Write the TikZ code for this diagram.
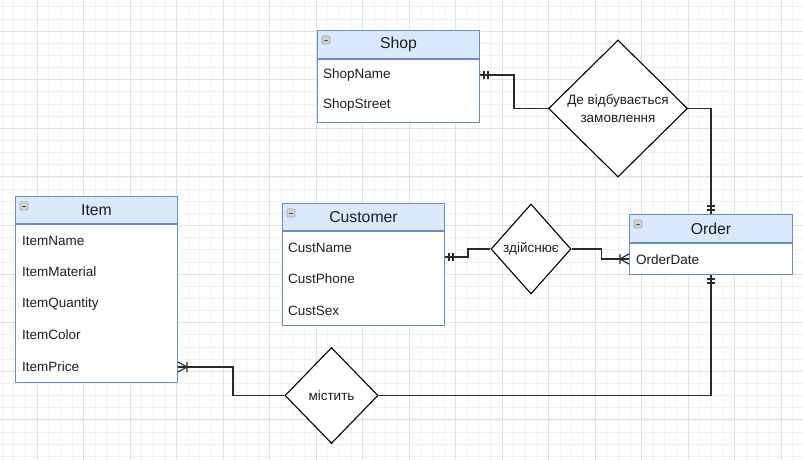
\documentclass[tikz,border=0pt]{standalone}
\usepackage{fontspec}
\setmainfont{Liberation Sans}
\usetikzlibrary{shapes.geometric, positioning, calc}
\definecolor{entline}{HTML}{6C8EBF}
\definecolor{entfill}{HTML}{DAE8FC}
\definecolor{gridmin}{HTML}{F2F2F2}
\definecolor{gridmaj}{HTML}{E2E2E2}
\definecolor{txt}{HTML}{1E1E1E}
\definecolor{lnk}{HTML}{2A2A2A}

\begin{document}
\begin{tikzpicture}[
    x=1pt, y=-1pt,
    ehead/.style={rectangle, draw=entline, fill=entfill, line width=1pt, minimum height=28pt, inner sep=0pt, anchor=north west, font=\fontsize{15.8}{19}\selectfont, text=txt},
    ebody/.style={rectangle, draw=entline, fill=white, line width=1pt, inner sep=0pt, anchor=north west},
    attr/.style={anchor=west, inner sep=0pt, font=\fontsize{13.5}{16}\selectfont, text=txt},
    rel/.style={diamond, draw=black, line width=1.1pt, fill=white, inner sep=0pt, align=center, font=\fontsize{13.5}{18}\selectfont, text=txt},
    link/.style={draw=lnk, line width=1.2pt},
    fold/.pic={\draw[gray!70, fill=gray!35, rounded corners=1pt, line width=0.6pt] (5,6) rectangle (13,14);
               \draw[black!70, line width=0.9pt] (7,10) -- (11,10);},
    mone/.pic={\draw[link] (4,-4) -- (4,4) (8,-4) -- (8,4);},
    mmany/.pic={\draw[link] (0,-5) -- (9,0) -- (0,5) (9,-5) -- (9,5);}
]

% Background grid
\useasboundingbox (0,0) rectangle (803,460);
\fill[white] (0,0) rectangle (803,460);
\begin{scope}
  \clip (0,0) rectangle (803,460);
  \foreach \gx in {0,...,70} \draw[gridmin, line width=0.6pt] ({-9.5+11.625*\gx},0) -- ++(0,460);
  \foreach \gy in {0,...,40} \draw[gridmin, line width=0.6pt] (0,{-17.6+12.15*\gy}) -- ++(803,0);
  \foreach \gx in {0,...,16} \draw[gridmaj, line width=0.7pt] ({37+46.5*\gx},0) -- ++(0,460);
  \foreach \gy in {0,...,8} \draw[gridmaj, line width=0.7pt] (0,{31+48.6*\gy}) -- ++(803,0);
\end{scope}

% Entities
\node[ehead, minimum width=162pt] (shophead) at (317,30) {Shop};
\node[ebody, minimum width=162pt, minimum height=63pt] (shopbody) at (shophead.south west) {};
\node[attr] (shopname) at ($(shopbody.north west)+(6,16)$) {ShopName};
\node[attr] (shopstreet) at ($(shopbody.north west)+(6,46)$) {ShopStreet};

\node[ehead, minimum width=162pt, minimum height=27pt] (custhead) at (282,203) {Customer};
\node[ebody, minimum width=162pt, minimum height=94pt] (custbody) at (custhead.south west) {};
\node[attr] (custname) at ($(custbody.north west)+(6,17)$) {CustName};
\node[attr] (custphone) at ($(custbody.north west)+(6,48)$) {CustPhone};
\node[attr] (custsex) at ($(custbody.north west)+(6,80)$) {CustSex};

\node[ehead, minimum width=163pt] (orderhead) at (629,214) {Order};
\node[ebody, minimum width=163pt, minimum height=31pt] (orderbody) at (orderhead.south west) {};
\node[attr] (orderdate) at ($(orderbody.north west)+(7,17)$) {OrderDate};

\node[ehead, minimum width=162pt, minimum height=27pt] (itemhead) at (15,196) {Item};
\node[ebody, minimum width=162pt, minimum height=158pt] (itembody) at (itemhead.south west) {};
\node[attr] (itemname) at ($(itembody.north west)+(7,17)$) {ItemName};
\node[attr] (itemmaterial) at ($(itembody.north west)+(7,48)$) {ItemMaterial};
\node[attr] (itemquantity) at ($(itembody.north west)+(7,80)$) {ItemQuantity};
\node[attr] (itemcolor) at ($(itembody.north west)+(7,111)$) {ItemColor};
\node[attr] (itemprice) at ($(itembody.north west)+(7,143)$) {ItemPrice};

\pic at (shophead.north west) {fold};
\pic at (custhead.north west) {fold};
\pic at (orderhead.north west) {fold};
\pic at (itemhead.north west) {fold};

% Relationships
\node[rel, minimum width=139pt, minimum height=137pt] (place) at (618,108.5) {Де відбувається\\замовлення};
\node[rel, minimum width=80pt, minimum height=90pt] (makes) at (531,249) {здійснює};
\node[rel, minimum width=93pt, minimum height=96pt] (holds) at (331.5,395.5) {містить};

% Connectors
\coordinate (custR) at ($(custbody.north east)+(0,26)$);
\draw[link] (shopname -| shopbody.east) -- ++(34,0) |- (place.west);
\draw[link] (place.east) -| (orderhead.north);
\draw[link] (custR) -- ++(23,0) |- (makes.west);
\draw[link] (makes.east) -- ++(30,0) |- (orderbody.west);
\draw[link] (itemprice -| itembody.east) -- ++(55,0) |- (holds.west);
\draw[link] (holds.east) -| (orderbody.south);

% Cardinality
\pic at (shopname -| shopbody.east) {mone};
\pic[rotate=90] at (orderhead.north) {mone};
\pic[rotate=-90] at (orderbody.south) {mone};
\pic at (custR) {mone};
\pic[rotate=180] at (orderbody.west) {mmany};
\pic at (itemprice -| itembody.east) {mmany};

\end{tikzpicture}
\end{document}
